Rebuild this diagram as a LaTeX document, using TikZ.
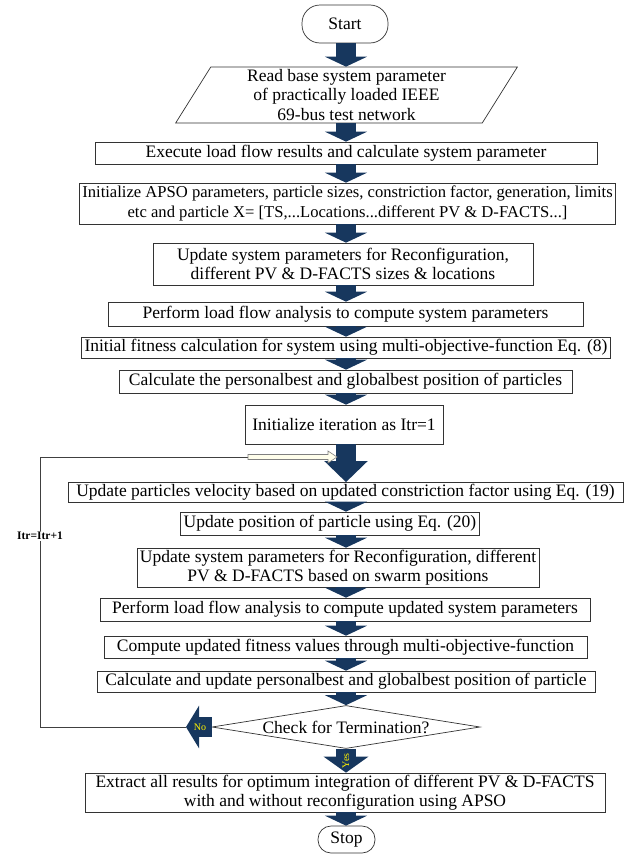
\documentclass[tikz,border=0pt]{standalone}
\usepackage{fontspec}
\setmainfont{Liberation Serif}
\usetikzlibrary{arrows.meta,shapes.geometric}
\definecolor{navy}{RGB}{23,55,94}
\begin{document}
\begin{tikzpicture}[x=1pt,y=1pt,
	box/.style={draw=black!80, line width=0.7pt, fill=white, align=center, inner xsep=3pt, inner ysep=0pt, minimum height=22pt, font=\fontsize{17.5}{19.5}\selectfont},
	terminal/.style={box, rounded corners=18pt},
	io/.style={box, trapezium, trapezium left angle=63.4, trapezium right angle=116.6, trapezium stretches=true, inner sep=0pt},
	decision/.style={box, diamond, aspect=6.2, inner sep=0pt},
	flow/.style={draw=navy, line width=20pt, -{Triangle[length=10pt,width=42pt]}},
	answer/.style={text=yellow, font=\fontsize{10}{11}\selectfont},
	backline/.style={draw=black!75, line width=0.7pt},
	hollow/.style={draw=black!50, fill=yellow!8, line width=0.6pt}]
	\useasboundingbox (0,0) rectangle (641,-854);
	\coordinate (spine) at (346,0);
	\node[terminal, minimum width=86pt, minimum height=38pt] (start) at (345,-24) {Start};
	\node[io, minimum width=343pt, minimum height=56pt] (read) at (346.5,-95) {Read base system parameter\\of practically loaded IEEE\\69-bus test network};
	\node[box, minimum width=502pt] (exec) at (346,-153) {Execute load flow results and calculate system parameter};
	\node[box, minimum width=535pt, minimum height=41pt, font=\fontsize{16.6}{19.5}\selectfont] (init) at (347.5,-203.5) {Initialize APSO parameters, particle sizes, constriction factor, generation, limits\\etc and particle X= [TS,...Locations...different PV \& D-FACTS...]};
	\node[box, minimum width=380pt, minimum height=42pt] (sizes) at (343,-264) {Update system parameters for Reconfiguration,\\different PV \& D-FACTS sizes \& locations};
	\node[box, minimum width=475pt, minimum height=24pt] (flowa) at (345.5,-314) {Perform load flow analysis to compute system parameters};
	\node[box, minimum width=502pt, minimum height=21pt] (fita) at (346,-347.5) {Initial fitness calculation for system using multi-objective-function Eq. (8)};
	\node[box, minimum width=453pt, minimum height=23pt] (besta) at (345.5,-381.5) {Calculate the personalbest and globalbest position of particles};
	\node[box, minimum width=198pt, minimum height=39pt] (itr) at (344,-424.5) {Initialize iteration as Itr=1};
	\node[box, minimum width=555pt, minimum height=20pt] (vel) at (345.5,-492.5) {Update particles velocity based on updated constriction factor using Eq. (19)};
	\node[box, minimum width=272pt, minimum height=23pt] (pos) at (330,-523.5) {Update position of particle using Eq. (20)};
	\node[box, minimum width=398pt, minimum height=39pt] (swarm) at (338,-567.5) {Update system parameters for Reconfiguration, different\\PV \& D-FACTS based on swarm positions};
	\node[box, minimum width=490pt, minimum height=23pt] (flowb) at (345,-609.5) {Perform load flow analysis to compute updated system parameters};
	\node[box, minimum width=483pt, minimum height=22pt] (fitb) at (345.5,-647) {Compute updated fitness values through multi-objective-function};
	\node[box, minimum width=498pt, minimum height=21pt] (bestb) at (346,-681.5) {Calculate and update personalbest and globalbest position of particle};
	\node[decision, minimum width=268pt, minimum height=43pt] (check) at (346,-727) {Check for Termination?};
	\node[box, minimum width=520pt, minimum height=39pt] (extract) at (345,-792.5) {Extract all results for optimum integration of different PV \& D-FACTS\\with and without reconfiguration using APSO};
	\node[terminal, minimum width=57pt, minimum height=27pt, rounded corners=13pt] (stop) at (346.5,-839.5) {Stop};
	\foreach \a/\b in {start/read, read/exec, exec/init, init/sizes, sizes/flowa, flowa/fita, fita/besta, besta/itr, vel/pos, pos/swarm, swarm/flowb, flowb/fitb, fitb/bestb, bestb/check, extract/stop}
		\draw[flow] (\a.south -| spine) -- (\b.north -| spine);
	\draw[flow, -{Triangle[length=21pt,width=42pt]}] (itr.south -| spine) -- (vel.north -| spine);
	\draw[flow, -{Triangle[length=16pt,width=44pt]}] (check.south) -- node[answer, rotate=90] {Yes} (extract.north -| check.south);
	\coordinate (notip) at (186,-727);
	\draw[flow, -{Triangle[length=13pt,width=42pt]}] (check.west) -- node[answer, pos=0.45] {No} (notip);
	\coordinate (back) at (40,-457);
	\coordinate (hs) at (248,-457);
	\draw[backline] (notip) -| (back) -- (hs);
	\draw[hollow] (hs) ++(0,2.5) -- ++(80,0) -- ++(0,3.5) -- ++(9,-6) -- ++(-9,-6) -- ++(0,3.5) -- ++(-80,0) -- cycle;
	\node[fill=white, inner sep=1pt, font=\bfseries\fontsize{11.5}{12}\selectfont] (inc) at (40,-536) {Itr=Itr+1};
\end{tikzpicture}
\end{document}
